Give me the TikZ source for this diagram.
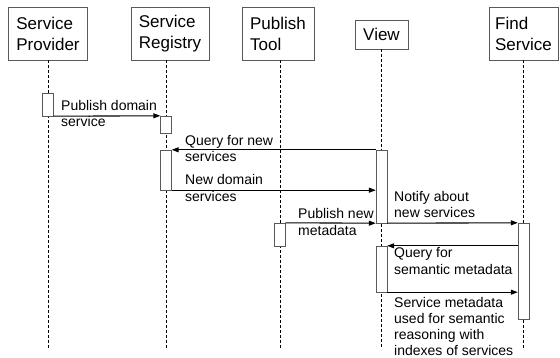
\documentclass[tikz,border=0pt]{standalone}
\usepackage{fontspec}
\setmainfont{Liberation Sans}
\usetikzlibrary{arrows.meta,calc}

\begin{document}
\begin{tikzpicture}[x=1pt, y=-1pt,
    obj/.style={draw=black!65, align=left, inner xsep=8pt, minimum height=53pt, font=\fontsize{17}{21}\selectfont},
    life/.style={dash pattern=on 3pt off 2pt, line width=0.8pt},
    act/.style={draw=black!65, fill=white, minimum width=11pt, inner sep=0pt},
    msg/.style={line width=1.1pt, -{Triangle[length=7pt,width=5pt]}},
    txt/.style={align=left, inner sep=0pt, anchor=west, font=\fontsize{14}{16.5}\selectfont}]

    \useasboundingbox (0,0) rectangle (560,358);
    \coordinate (bottom) at (0,349);

    \node[obj] (prov) at (48,33.5) {Service\\Provider};
    \node[obj] (reg) at (170,33.5) {Service\\Registry};
    \node[obj] (tool) at (278,33.5) {Publish\\Tool};
    \node[obj, minimum height=29pt] (view) at (381.5,34.5) {View};
    \node[obj, inner xsep=6pt] (find) at (523.5,33.5) {Find\\Service};

    \draw[life] (prov.south) -- (prov.south |- bottom);
    \draw[life] (166,60) -- (166,349);
    \draw[life] (280,60) -- (280,349);
    \draw[life] (view.south) -- (view.south |- bottom);
    \draw[life] (find.south) -- (find.south |- bottom);

    \node[act, minimum height=23pt] (pbar) at (48,104.5) {};
    \node[act, minimum height=17pt] (rbar1) at (166,124.5) {};
    \node[act, minimum height=40pt] (rbar2) at (166,170) {};
    \node[act, minimum height=73pt] (vbar1) at (381.5,186.5) {};
    \node[act, minimum height=23pt] (tbar) at (280,234.5) {};
    \node[act, minimum height=96pt] (fbar) at (523.5,271) {};
    \node[act, minimum height=46pt] (vbar2) at (381.5,269) {};

    \draw[msg] (pbar.south east) -- (rbar1.north west);
    \draw[msg] (vbar1.north west) -- (rbar2.north east);
    \draw[msg] (rbar2.south east) -- (rbar2.south east -| vbar1.west);
    \draw[msg] (tbar.north east) -- (vbar1.south west);
    \draw[msg] (vbar1.south east) -- (fbar.north west);
    \draw[msg] (vbar2.north east -| fbar.west) -- (vbar2.north east);
    \draw[msg] (vbar2.south east) -- (vbar2.south east -| fbar.west);

    \node[txt] (l1) at (61,113.5) {Publish domain\\service};
    \node[txt] (l2) at (185,148.5) {Query for new\\services};
    \node[txt] (l3) at (185,188) {New domain\\services};
    \node[txt] (l4) at (298,222) {Publish new\\metadata};
    \node[txt] (l5) at (394,204.5) {Notify about\\new services};
    \node[txt] (l6) at (394,261) {Query for\\semantic metadata};
    \node[txt, font=\fontsize{14}{16}\selectfont] (l7) at (394,326) {Service metadata\\used for semantic\\reasoning with\\indexes of services};

\end{tikzpicture}
\end{document}
